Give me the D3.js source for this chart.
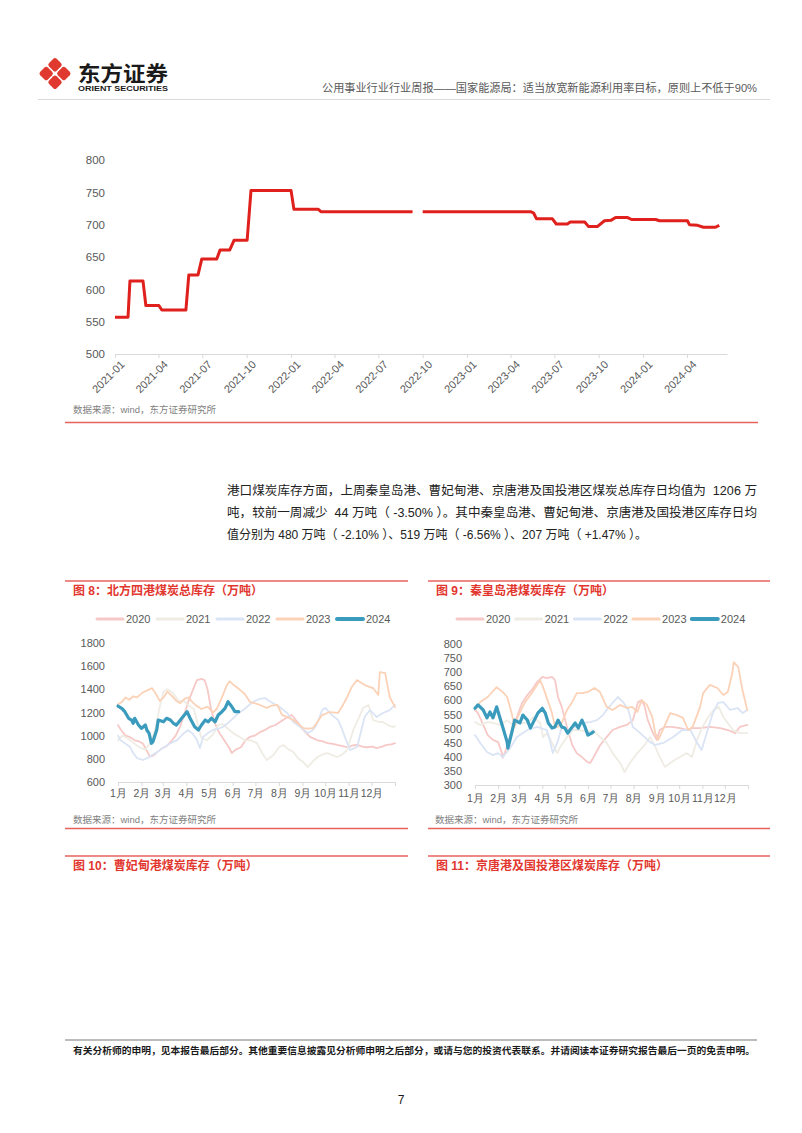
<!DOCTYPE html>
<html><head><meta charset="utf-8">
<script src="https://cdn.jsdelivr.net/npm/d3@7"></script>
<style>
html,body{margin:0;padding:0;background:#fff;}
svg{display:block;font-family:"Liberation Sans","Noto Sans CJK SC",sans-serif;}
</style></head><body>
<svg id="page" width="802" height="1133"></svg>
<script>
// ---------------- DATA ----------------
// Top chart: price line (step series), null = gap
const priceDates = ["2021-01-01","2021-01-28","2021-02-01","2021-02-28","2021-03-06","2021-04-02","2021-04-08","2021-05-28","2021-06-03","2021-06-22","2021-06-30","2021-07-31","2021-08-07","2021-08-27","2021-09-05","2021-10-02","2021-10-10","2022-01-01","2022-01-07","2022-02-26","2022-03-04","2022-09-10","2022-09-20","2022-10-01","2023-05-13","2023-05-19","2023-05-25","2023-06-27","2023-07-05","2023-07-28","2023-08-03","2023-09-02","2023-09-10","2023-09-28","2023-10-13","2023-10-27","2023-11-05","2023-11-30","2023-12-08","2024-01-27","2024-02-04","2024-04-02","2024-04-06","2024-04-23","2024-05-05","2024-05-30","2024-06-07"];
const priceValues = [557,557,613,613,575,575,568,568,622,622,647,647,661,661,676,676,753,753,724,724,720,720,null,720,720,718,709,709,701,701,704,704,697,697,706,707,711,711,708,708,706,706,700,699,696,696,699];
const priceYTicks = [500,550,600,650,700,750,800];

// Seasonal charts: [day of year, value]
const years = ["2020","2021","2022","2023","2024"];
const monthStarts = [0,31,59,90,120,151,181,212,243,273,304,334];
const monthLabels = ["1月","2月","3月","4月","5月","6月","7月","8月","9月","10月","11月","12月"];

// Fig 8: four northern ports total inventory
const port4_2020 = [[0,1090],[5,1040],[10,1000],[15,990],[22,960],[28,950],[33,930],[38,870],[42,820],[47,830],[52,860],[58,890],[64,910],[70,950],[76,1000],[82,1080],[88,1200],[93,1300],[99,1400],[104,1480],[110,1490],[114,1480],[118,1400],[122,1250],[127,1120],[133,1030],[140,960],[146,900],[150,850],[155,880],[162,900],[168,960],[174,990],[180,1000],[187,1030],[194,1050],[200,1075],[207,1090],[214,1120],[223,1160],[229,1178],[236,1120],[244,1050],[253,990],[258,975],[263,960],[270,950],[276,936],[283,930],[289,920],[296,910],[302,900],[309,915],[315,920],[322,905],[328,900],[335,905],[341,893],[348,905],[354,920],[360,925],[365,936]];
const port4_2021 = [[0,960],[6,1000],[12,980],[20,940],[28,900],[36,880],[44,950],[50,1080],[55,1250],[60,1380],[65,1400],[72,1370],[80,1300],[87,1300],[93,1260],[100,1230],[105,1100],[110,980],[117,960],[125,1010],[132,1090],[138,1100],[145,1060],[152,1020],[160,990],[167,960],[174,962],[183,936],[190,850],[196,790],[205,833],[212,900],[218,919],[225,880],[231,859],[238,800],[244,773],[250,729],[257,780],[263,816],[270,840],[276,850],[283,830],[289,816],[296,840],[302,876],[310,1049],[317,1150],[323,1239],[330,1265],[336,1135],[343,1120],[349,1118],[356,1090],[362,1075],[365,1080]];
const port4_2022 = [[0,1000],[3,962],[10,930],[16,902],[20,850],[25,807],[33,790],[40,810],[45,833],[52,860],[59,893],[68,930],[78,962],[85,1010],[92,1049],[98,1020],[104,962],[108,893],[112,988],[118,1020],[125,1049],[132,1060],[138,1075],[145,1110],[152,1152],[158,1190],[165,1221],[172,1260],[178,1290],[183,1308],[188,1320],[194,1325],[199,1300],[204,1282],[213,1247],[223,1196],[231,1118],[240,1075],[250,1023],[255,1040],[260,1075],[265,1150],[269,1221],[273,1239],[282,1178],[290,1135],[295,1060],[299,988],[306,876],[311,890],[315,902],[320,1030],[325,1161],[332,1221],[341,1161],[349,1196],[358,1221],[365,1265]];
const port4_2023 = [[0,1270],[5,1290],[10,1330],[15,1310],[20,1340],[25,1330],[32,1370],[40,1395],[45,1410],[50,1360],[55,1300],[60,1330],[65,1380],[70,1350],[77,1300],[82,1280],[88,1320],[93,1330],[98,1290],[103,1260],[110,1230],[118,1250],[125,1200],[130,1230],[137,1330],[143,1430],[147,1470],[152,1440],[160,1400],[167,1360],[174,1290],[180,1280],[187,1265],[196,1240],[203,1260],[210,1265],[216,1180],[223,1160],[231,1135],[238,1100],[244,1066],[250,1060],[257,1066],[263,1120],[269,1178],[279,1204],[290,1196],[296,1260],[302,1334],[308,1420],[315,1480],[325,1437],[336,1411],[343,1351],[345,1549],[352,1540],[358,1334],[365,1247]];
const port4_2024 = [[0,1256],[5,1236],[9,1207],[14,1150],[18,1135],[20,1107],[22,1150],[27,1092],[31,1063],[36,1092],[38,1049],[41,1020],[44,934],[46,948],[51,1049],[53,1135],[60,1120],[64,1150],[69,1135],[73,1107],[77,1092],[84,1150],[91,1207],[95,1150],[101,1077],[106,1049],[110,1092],[115,1135],[119,1120],[123,1150],[128,1120],[132,1178],[137,1207],[141,1236],[145,1293],[150,1250],[154,1207],[159,1207]];
const port4YTicks = [600,800,1000,1200,1400,1600,1800];

// Fig 9: Qinhuangdao port inventory
const qhd_2020 = [[0,566],[4,555],[11,513],[17,477],[24,460],[31,452],[36,413],[37,396],[43,435],[49,495],[56,541],[63,591],[70,619],[76,637],[83,665],[90,683],[96,679],[103,683],[107,672],[111,612],[116,577],[123,506],[130,442],[136,413],[143,399],[150,382],[154,378],[158,396],[167,440],[176,470],[184,495],[194,506],[203,513],[211,530],[218,594],[223,601],[227,577],[231,530],[238,484],[243,460],[247,495],[254,506],[263,506],[274,502],[285,495],[291,502],[301,502],[314,506],[328,502],[338,495],[348,484],[354,506],[364,513]];
const qhd_2021 = [[0,523],[7,513],[17,523],[24,520],[33,513],[43,530],[51,513],[60,520],[70,520],[78,541],[87,520],[91,470],[96,484],[103,449],[110,413],[114,435],[123,470],[131,495],[140,495],[150,488],[158,495],[167,470],[176,450],[184,413],[194,378],[200,346],[207,378],[217,413],[225,435],[234,470],[241,435],[247,399],[254,364],[261,378],[267,389],[274,399],[283,413],[290,399],[297,460],[304,506],[312,541],[319,566],[326,577],[332,541],[338,520],[345,495],[354,484],[364,484]];
const qhd_2022 = [[0,477],[7,449],[16,417],[24,406],[31,413],[37,399],[47,431],[56,470],[70,495],[83,506],[96,495],[100,460],[104,413],[110,449],[116,506],[124,495],[134,506],[143,520],[154,523],[163,530],[171,548],[178,573],[184,591],[191,612],[198,594],[205,566],[211,506],[221,484],[234,452],[241,442],[252,449],[265,470],[277,495],[288,495],[297,449],[303,424],[311,495],[318,555],[325,591],[332,594],[341,566],[351,573],[358,555],[364,566]];
const qhd_2023 = [[0,566],[7,594],[17,612],[29,647],[37,630],[43,612],[49,555],[53,506],[57,541],[67,594],[76,626],[83,655],[87,672],[91,647],[98,594],[103,555],[107,506],[111,506],[116,520],[123,566],[130,594],[136,626],[144,626],[151,630],[160,644],[167,630],[176,577],[184,566],[194,584],[203,573],[210,577],[217,559],[223,601],[230,584],[237,541],[241,484],[245,460],[251,495],[261,555],[270,548],[278,538],[285,495],[291,506],[301,577],[305,626],[314,655],[324,644],[332,619],[338,630],[344,697],[346,736],[352,718],[357,644],[364,566]];
const qhd_2024 = [[0,572],[4,584],[11,566],[16,538],[20,559],[24,538],[29,577],[33,541],[37,506],[43,452],[44,431],[49,484],[53,530],[60,520],[64,548],[70,530],[74,502],[78,523],[84,555],[90,572],[94,555],[98,520],[103,502],[107,506],[111,530],[116,506],[120,502],[124,484],[130,506],[134,520],[138,502],[143,530],[147,506],[151,477],[156,484],[158,488]];
const qhdYTicks = [300,350,400,450,500,550,600,650,700,750,800];

// ---------------- STYLE ----------------
const yearColors = {"2020":"#f6c9c7","2021":"#efece4","2022":"#dae4f5","2023":"#fbd2b7","2024":"#3a9bbd"};
const yearWidths = {"2020":1.8,"2021":1.8,"2022":1.8,"2023":1.8,"2024":3.2};
const RED = "#e2372f";
const LINE_RED = "#e8625c";
const GRAY_TXT = "#595959";

const svg = d3.select("#page");
svg.append("rect").attr("width",802).attr("height",1133).attr("fill","#fff");

// ---------------- HEADER ----------------
const logo = svg.append("g").attr("transform","translate(55,73.5)");
[[0,-8.8],[-8.8,0],[8.8,0],[0,8.8]].forEach(([dx,dy])=>{
  logo.append("rect").attr("x",-5.4).attr("y",-5.4).attr("width",10.8).attr("height",10.8).attr("rx",2.4)
    .attr("transform",`translate(${dx},${dy}) rotate(45)`).attr("fill","#e03a30");
});
svg.append("text").attr("x",78).attr("y",81).attr("textLength",90).attr("lengthAdjust","spacingAndGlyphs")
  .style("font-size","21px").style("font-weight","bold").attr("fill","#1a1a1a").text("东方证券");
svg.append("text").attr("x",78).attr("y",90.5).attr("textLength",90).attr("lengthAdjust","spacingAndGlyphs")
  .style("font-size","8px").style("font-weight","bold").attr("fill","#1a1a1a").text("ORIENT SECURITIES");
svg.append("text").attr("x",322).attr("y",88).attr("dominant-baseline","central")
  .attr("textLength",435).attr("lengthAdjust","spacingAndGlyphs")
  .style("font-size","11px").attr("fill",GRAY_TXT)
  .text("公用事业行业行业周报——国家能源局：适当放宽新能源利用率目标，原则上不低于90%");
svg.append("line").attr("x1",38).attr("x2",770).attr("y1",99.5).attr("y2",99.5).attr("stroke","#d9d9d9").attr("stroke-width",1);

// ---------------- TOP CHART ----------------
(function(){
  const parse = d3.timeParse("%Y-%m-%d");
  const pts = priceDates.map((d,i)=>({date:parse(d), v:priceValues[i]}));
  const x = d3.scaleTime().domain([parse("2021-01-01"), parse("2024-06-23")]).range([115,727]);
  const y = d3.scaleLinear().domain([500,800]).range([354,160]);
  const g = svg.append("g");
  const ya = g.append("g").attr("transform","translate(115,0)")
    .call(d3.axisLeft(y).tickValues(priceYTicks).tickFormat(d3.format("d")).tickSize(0).tickPadding(10));
  ya.select(".domain").remove();
  ya.selectAll("text").style("font-size","11.5px").attr("fill",GRAY_TXT).style("font-family","inherit");
  const xa = g.append("g").attr("transform","translate(0,354)")
    .call(d3.axisBottom(x).ticks(d3.timeMonth.every(3)).tickFormat(d3.timeFormat("%Y-%m")).tickSize(4).tickSizeOuter(0));
  xa.select(".domain").attr("stroke","#d9d9d9");
  xa.selectAll(".tick line").attr("stroke","#d9d9d9");
  xa.selectAll("text").attr("x",-1).attr("y",11).attr("dy","0.35em")
    .attr("transform","rotate(-45)").style("text-anchor","end")
    .style("font-size","11px").attr("fill",GRAY_TXT).style("font-family","inherit");
  const line = d3.line().defined(d=>d.v!==null).x(d=>x(d.date)).y(d=>y(d.v));
  g.append("path").datum(pts).attr("d",line).attr("fill","none").attr("stroke","#e0201c")
    .attr("stroke-width",3).attr("stroke-linejoin","round");
  svg.append("text").attr("x",73).attr("y",409).attr("dominant-baseline","central")
    .style("font-size","9.5px").attr("fill","#7f7f7f").text("数据来源：wind，东方证券研究所");
  svg.append("line").attr("x1",65).attr("x2",758).attr("y1",422.5).attr("y2",422.5).attr("stroke",LINE_RED).attr("stroke-width",1.3);
})();

// ---------------- PARAGRAPH ----------------
const paraLines = [
  {t:"港口煤炭库存方面，上周秦皇岛港、曹妃甸港、京唐港及国投港区煤炭总库存日均值为  1206 万", y:491, w:530},
  {t:"吨，较前一周减少  44 万吨（ -3.50% ）。其中秦皇岛港、曹妃甸港、京唐港及国投港区库存日均", y:513, w:530},
  {t:"值分别为 480 万吨（ -2.10% ）、519 万吨（ -6.56% ）、207 万吨（ +1.47% ）。", y:535, w:420}
];
paraLines.forEach(l=>{
  svg.append("text").attr("x",227).attr("y",l.y).attr("dominant-baseline","central")
    .attr("textLength",l.w).attr("lengthAdjust","spacingAndGlyphs")
    .style("font-size","12.5px").attr("fill","#222").style("white-space","pre").text(l.t);
});

// ---------------- SECTION HEADERS ----------------
function sectionHead(x1,x2,yLine,title){
  svg.append("line").attr("x1",x1).attr("x2",x2).attr("y1",yLine).attr("y2",yLine).attr("stroke",LINE_RED).attr("stroke-width",1.3);
  svg.append("text").attr("x",x1+8).attr("y",yLine+9.5).attr("dominant-baseline","central")
    .style("font-size","12px").style("font-weight","bold").attr("fill",RED).text(title);
}
sectionHead(65,408,581,"图 8：北方四港煤炭总库存（万吨）");
sectionHead(428,770,581,"图 9：秦皇岛港煤炭库存（万吨）");
sectionHead(65,408,856,"图 10：曹妃甸港煤炭库存（万吨）");
sectionHead(428,770,856,"图 11：京唐港及国投港区煤炭库存（万吨）");

// ---------------- SEASONAL CHARTS ----------------
function seasonal(o){
  const g = svg.append("g");
  const x = d3.scaleLinear().domain([0,365]).range([o.x0,o.x1]);
  const y = d3.scaleLinear().domain([o.yTicks[0], o.yTicks[o.yTicks.length-1]]).range([o.yb,o.yt]);
  const ya = g.append("g").attr("transform",`translate(${o.x0},0)`)
    .call(d3.axisLeft(y).tickValues(o.yTicks).tickFormat(d3.format("d")).tickSize(0).tickPadding(o.x0-o.labelX));
  ya.select(".domain").remove();
  ya.selectAll("text").style("font-size","11px").attr("fill",GRAY_TXT).style("font-family","inherit");
  const xa = g.append("g").attr("transform",`translate(0,${o.yb})`)
    .call(d3.axisBottom(x).tickValues(monthStarts).tickFormat((d,i)=>monthLabels[i]).tickSize(4).tickSizeOuter(4).tickPadding(o.pad));
  xa.select(".domain").attr("stroke","#d9d9d9");
  xa.selectAll(".tick line").attr("stroke","#d9d9d9");
  xa.selectAll("text").style("font-size","10.5px").attr("fill",GRAY_TXT).style("font-family","inherit");
  const line = d3.line().x(d=>x(d[0])).y(d=>y(d[1]));
  o.series.forEach((s,i)=>{
    g.append("path").datum(s).attr("d",line).attr("fill","none")
      .attr("stroke",yearColors[years[i]]).attr("stroke-width",yearWidths[years[i]])
      .attr("stroke-linejoin","round").attr("stroke-linecap","round");
  });
  // legend
  years.forEach((yr,i)=>{
    const lx = o.legX + i*o.legStep;
    g.append("line").attr("x1",lx).attr("x2",lx+26).attr("y1",619).attr("y2",619)
      .attr("stroke",yearColors[yr]).attr("stroke-width",yr==="2024"?4:3).attr("stroke-linecap","round");
    g.append("text").attr("x",lx+29).attr("y",619).attr("dominant-baseline","central")
      .style("font-size","11px").attr("fill",GRAY_TXT).text(yr);
  });
  svg.append("text").attr("x",o.srcX).attr("y",819).attr("dominant-baseline","central")
    .style("font-size","9.5px").attr("fill","#7f7f7f").text("数据来源：wind，东方证券研究所");
  svg.append("line").attr("x1",o.lineX1).attr("x2",o.lineX2).attr("y1",828.5).attr("y2",828.5).attr("stroke",LINE_RED).attr("stroke-width",1.3);
}
seasonal({x0:118,x1:395,yb:782,yt:643,labelX:105,pad:4,yTicks:port4YTicks,
  series:[port4_2020,port4_2021,port4_2022,port4_2023,port4_2024],
  legX:97,legStep:60,srcX:73,lineX1:65,lineX2:408});
seasonal({x0:475,x1:748,yb:785,yt:644,labelX:462,pad:6,yTicks:qhdYTicks,
  series:[qhd_2020,qhd_2021,qhd_2022,qhd_2023,qhd_2024],
  legX:457,legStep:58.7,srcX:435,lineX1:428,lineX2:770});

// ---------------- FOOTER ----------------
svg.append("line").attr("x1",65).attr("x2",757).attr("y1",1040).attr("y2",1040).attr("stroke","#a6a6a6").attr("stroke-width",1.5);
svg.append("text").attr("x",73).attr("y",1050).attr("dominant-baseline","central")
  .attr("textLength",682).attr("lengthAdjust","spacingAndGlyphs")
  .style("font-size","9.5px").style("font-weight","bold").attr("fill","#1a1a1a")
  .text("有关分析师的申明，见本报告最后部分。其他重要信息披露见分析师申明之后部分，或请与您的投资代表联系。并请阅读本证券研究报告最后一页的免责申明。");
svg.append("text").attr("x",401).attr("y",1100).attr("text-anchor","middle").attr("dominant-baseline","central")
  .style("font-size","12px").attr("fill","#1a1a1a").text("7");
</script>
</body></html>
